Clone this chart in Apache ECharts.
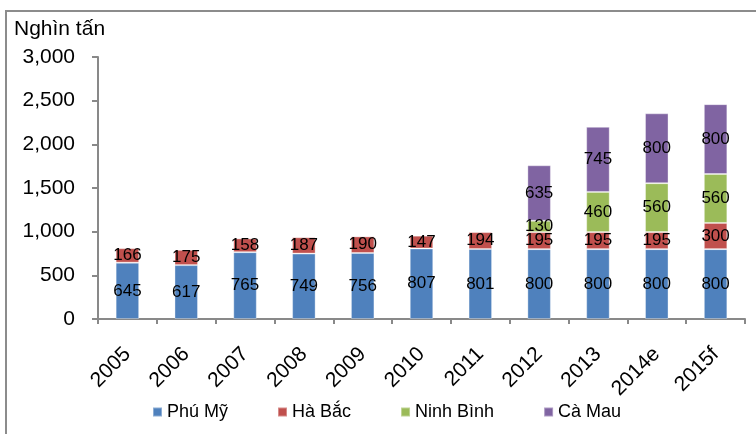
<!DOCTYPE html>
<html>
<head>
<meta charset="utf-8">
<script src="https://cdn.jsdelivr.net/npm/echarts@6/dist/echarts.min.js"></script>
<style>
html,body{margin:0;padding:0;background:#fff;}
#chart{width:756px;height:434px;}
</style>
</head>
<body>
<div id="chart"></div>
<script>
var categories = ['2005','2006','2007','2008','2009','2010','2011','2012','2013','2014e','2015f'];
var phuMy    = [645, 617, 765, 749, 756, 807, 801, 800, 800, 800, 800];
var haBac    = [166, 175, 158, 187, 190, 147, 194, 195, 195, 195, 300];
var ninhBinh = [null, null, null, null, null, null, null, 130, 460, 560, 560];
var caMau    = [null, null, null, null, null, null, null, 635, 745, 800, 800];
var seriesNames = ['Phú Mỹ', 'Hà Bắc', 'Ninh Bình', 'Cà Mau'];
var yTicks = [0, 500, 1000, 1500, 2000, 2500, 3000];

var FONT = '"Liberation Sans", Arial, sans-serif';
var colors = ['#4F81BD', '#C0504D', '#9BBB59', '#8064A2'];
var seriesData = [phuMy, haBac, ninhBinh, caMau];

function fmt(v){ return String(v).replace(/\B(?=(\d{3})+(?!\d))/g, ','); }

var chart = echarts.init(document.getElementById('chart'), null, {renderer:'canvas'});
chart.setOption({
  backgroundColor: '#fff',
  animation: false,
  color: colors,
  textStyle: {fontFamily: FONT},
  graphic: [
    {type:'rect', shape:{x:6, y:11, width:800, height:500}, style:{fill:'none', stroke:'#8c8c8c', lineWidth:2}, silent:true},
    {type:'text', left:14, top:19, style:{text:'Nghìn tấn', font:'21px ' + FONT, fill:'#000'}}
  ],
  legend: {
    data: seriesNames,
    left: 152,
    top: 403,
    padding: 0,
    itemGap: 49,
    itemWidth: 9,
    itemHeight: 9,
    icon: 'rect',
    textStyle: {fontSize: 18, color:'#000', fontFamily: FONT}
  },
  grid: {left: 98, right: 11, top: 57, bottom: 115, containLabel: false},
  xAxis: {
    type: 'category',
    data: categories,
    axisLine: {lineStyle: {color:'#898989', width:2}},
    axisTick: {show:true, length:5, alignWithLabel:false, interval:0, lineStyle:{color:'#898989', width:2}},
    axisLabel: {rotate:45, interval:0, margin:32, fontSize:21, color:'#000', fontFamily: FONT}
  },
  yAxis: {
    type: 'value',
    min: yTicks[0],
    max: yTicks[yTicks.length-1],
    interval: 500,
    splitLine: {show:false},
    axisLine: {show:true, lineStyle: {color:'#898989', width:2}},
    axisTick: {show:true, length:6, lineStyle:{color:'#898989', width:2}},
    axisLabel: {margin:23, fontSize:21, color:'#000', fontFamily: FONT, formatter: function(v){ return fmt(v); }}
  },
  series: seriesNames.map(function(name, i){
    return {
      name: name,
      type: 'bar',
      stack: 'total',
      barWidth: 23.5,
      data: seriesData[i],
      itemStyle: {color: colors[i], borderColor: 'rgba(255,255,255,0.35)', borderWidth: 1},
      label: {show:true, position:'inside', color:'#000', fontSize:17, fontFamily: FONT,
              formatter: function(p){ return p.value == null ? '' : String(p.value); }}
    };
  })
});
</script>
</body>
</html>
